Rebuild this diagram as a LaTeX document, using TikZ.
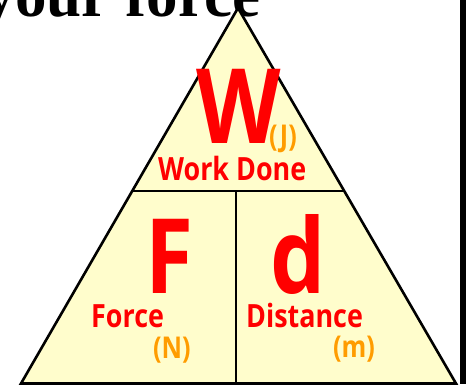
\documentclass[tikz,border=0pt]{standalone}
\usepackage{fontspec}
\setmainfont{Liberation Serif}
\newfontfamily\osans{Open Sans}
\usetikzlibrary{calc}
\definecolor{trifill}{HTML}{FFFDCC}
\definecolor{lblred}{HTML}{FF0000}
\definecolor{unitor}{HTML}{FF9C00}
\newcommand{\narrow}[1]{\scalebox{0.84}[1]{#1}}
\begin{document}
\begin{tikzpicture}[x=1pt,y=-1pt,
  sym/.style={anchor=base west, inner sep=0pt, text=lblred, font=\osans\bfseries\fontsize{104}{104}\selectfont},
  word/.style={anchor=base west, inner sep=0pt, text=lblred, font=\osans\bfseries\fontsize{32}{32}\selectfont},
  unit/.style={anchor=base west, inner sep=0pt, text=unitor, font=\osans\bfseries\fontsize{30}{30}\selectfont},
  edge/.style={line width=2.6pt, line join=miter},
  divider/.style={line width=2pt}]
\useasboundingbox (0,0) rectangle (467,384);
\node[anchor=base east, inner sep=0pt, font=\bfseries\fontsize{63}{63}\selectfont] (title) at (261,16) {your force};
\coordinate (A) at (238,8);
\coordinate (BL) at (21,383.5);
\coordinate (BR) at (456,383.5);
\fill[trifill] (A) -- (BR) -- (BL) -- cycle;
\coordinate (L) at ($(A)!0.4874!(BL)$);
\coordinate (R) at ($(A)!0.4874!(BR)$);
\coordinate (M) at (236,191);
\coordinate (M2) at (236,383.5);
\draw[divider] (L) -- (R);
\draw[divider] (M) -- (M2);
\draw[edge] (A) -- (BR) -- (BL) -- cycle;
\coordinate (barT) at (460,0);
\coordinate (barB) at (466,384);
\fill[black] (barT) rectangle (barB);
\node[sym] (W) at (196,143) {\narrow{W}};
\node[unit] (J) at (269,146) {\narrow{(J)}};
\node[word] (WD) at (158,180) {\narrow{Work Done}};
\node[sym] (F) at (145,293) {\narrow{F}};
\node[word] (Fo) at (91,327) {\narrow{Force}};
\node[unit] (N) at (153,358) {\narrow{(N)}};
\node[sym] (d) at (270,293) {\narrow{d}};
\node[word] (Di) at (246,327) {\narrow{Distance}};
\node[unit] (m) at (333,357) {\narrow{(m)}};
\end{tikzpicture}
\end{document}
